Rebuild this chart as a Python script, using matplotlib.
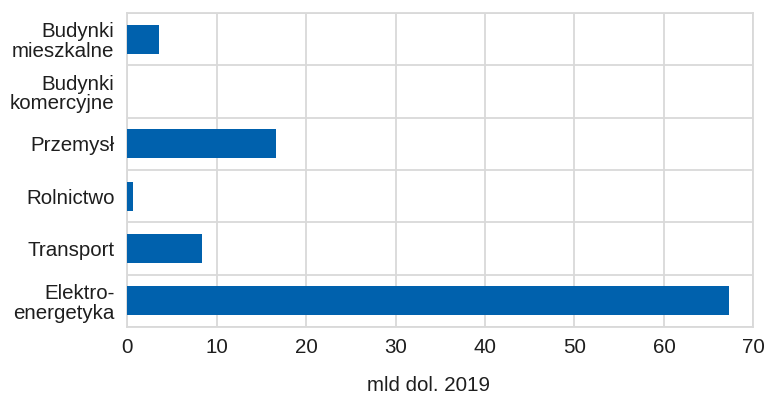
import matplotlib
matplotlib.use("Agg")
import matplotlib.pyplot as plt
import numpy as np

categories = ["Budynki\nmieszkalne", "Budynki\nkomercyjne", "Przemysł",
              "Rolnictwo", "Transport", "Elektro-\nenergetyka"]
values = [3.57, 0.0, 16.7, 0.67, 8.38, 67.3]
x_ticks = [0, 10, 20, 30, 40, 50, 60, 70]
x_label = "mld dol. 2019"

bar_color = "#0061AD"
grid_color = "#D9D9D9"
text_color = "#1E1E1E"

plt.rcParams["font.family"] = ["Liberation Sans", "DejaVu Sans"]

fig = plt.figure(figsize=(7.68, 3.94), dpi=100)
ax = fig.add_axes([0.1654, 0.170, 0.8157, 0.797])

pos = np.arange(len(categories))
ax.barh(pos, values, height=0.55, color=bar_color, zorder=3)

ax.set_xlim(0, 70)
ax.set_ylim(len(categories) - 0.5, -0.5)
ax.set_xticks(x_ticks)
ax.set_xticklabels([str(t) for t in x_ticks])
ax.set_yticks(pos)
ax.set_yticklabels(categories, linespacing=1.05)
ax.set_yticks(np.arange(len(categories) + 1) - 0.5, minor=True)

ax.grid(axis="x", which="major", color=grid_color, linewidth=1.3, zorder=0)
ax.grid(axis="y", which="minor", color=grid_color, linewidth=1.3, zorder=0)
ax.grid(axis="y", which="major", visible=False)

for spine in ax.spines.values():
    spine.set_color(grid_color)
    spine.set_linewidth(1.3)

ax.tick_params(axis="both", which="both", length=0, labelsize=14.8,
               labelcolor=text_color)
ax.tick_params(axis="y", pad=9)
ax.tick_params(axis="x", pad=8)

ax.set_xlabel(x_label, fontsize=14.8, color=text_color)
ax.xaxis.set_label_coords((428 - 127) / 626.5, -0.155)

fig.savefig("out.png", dpi=100)
